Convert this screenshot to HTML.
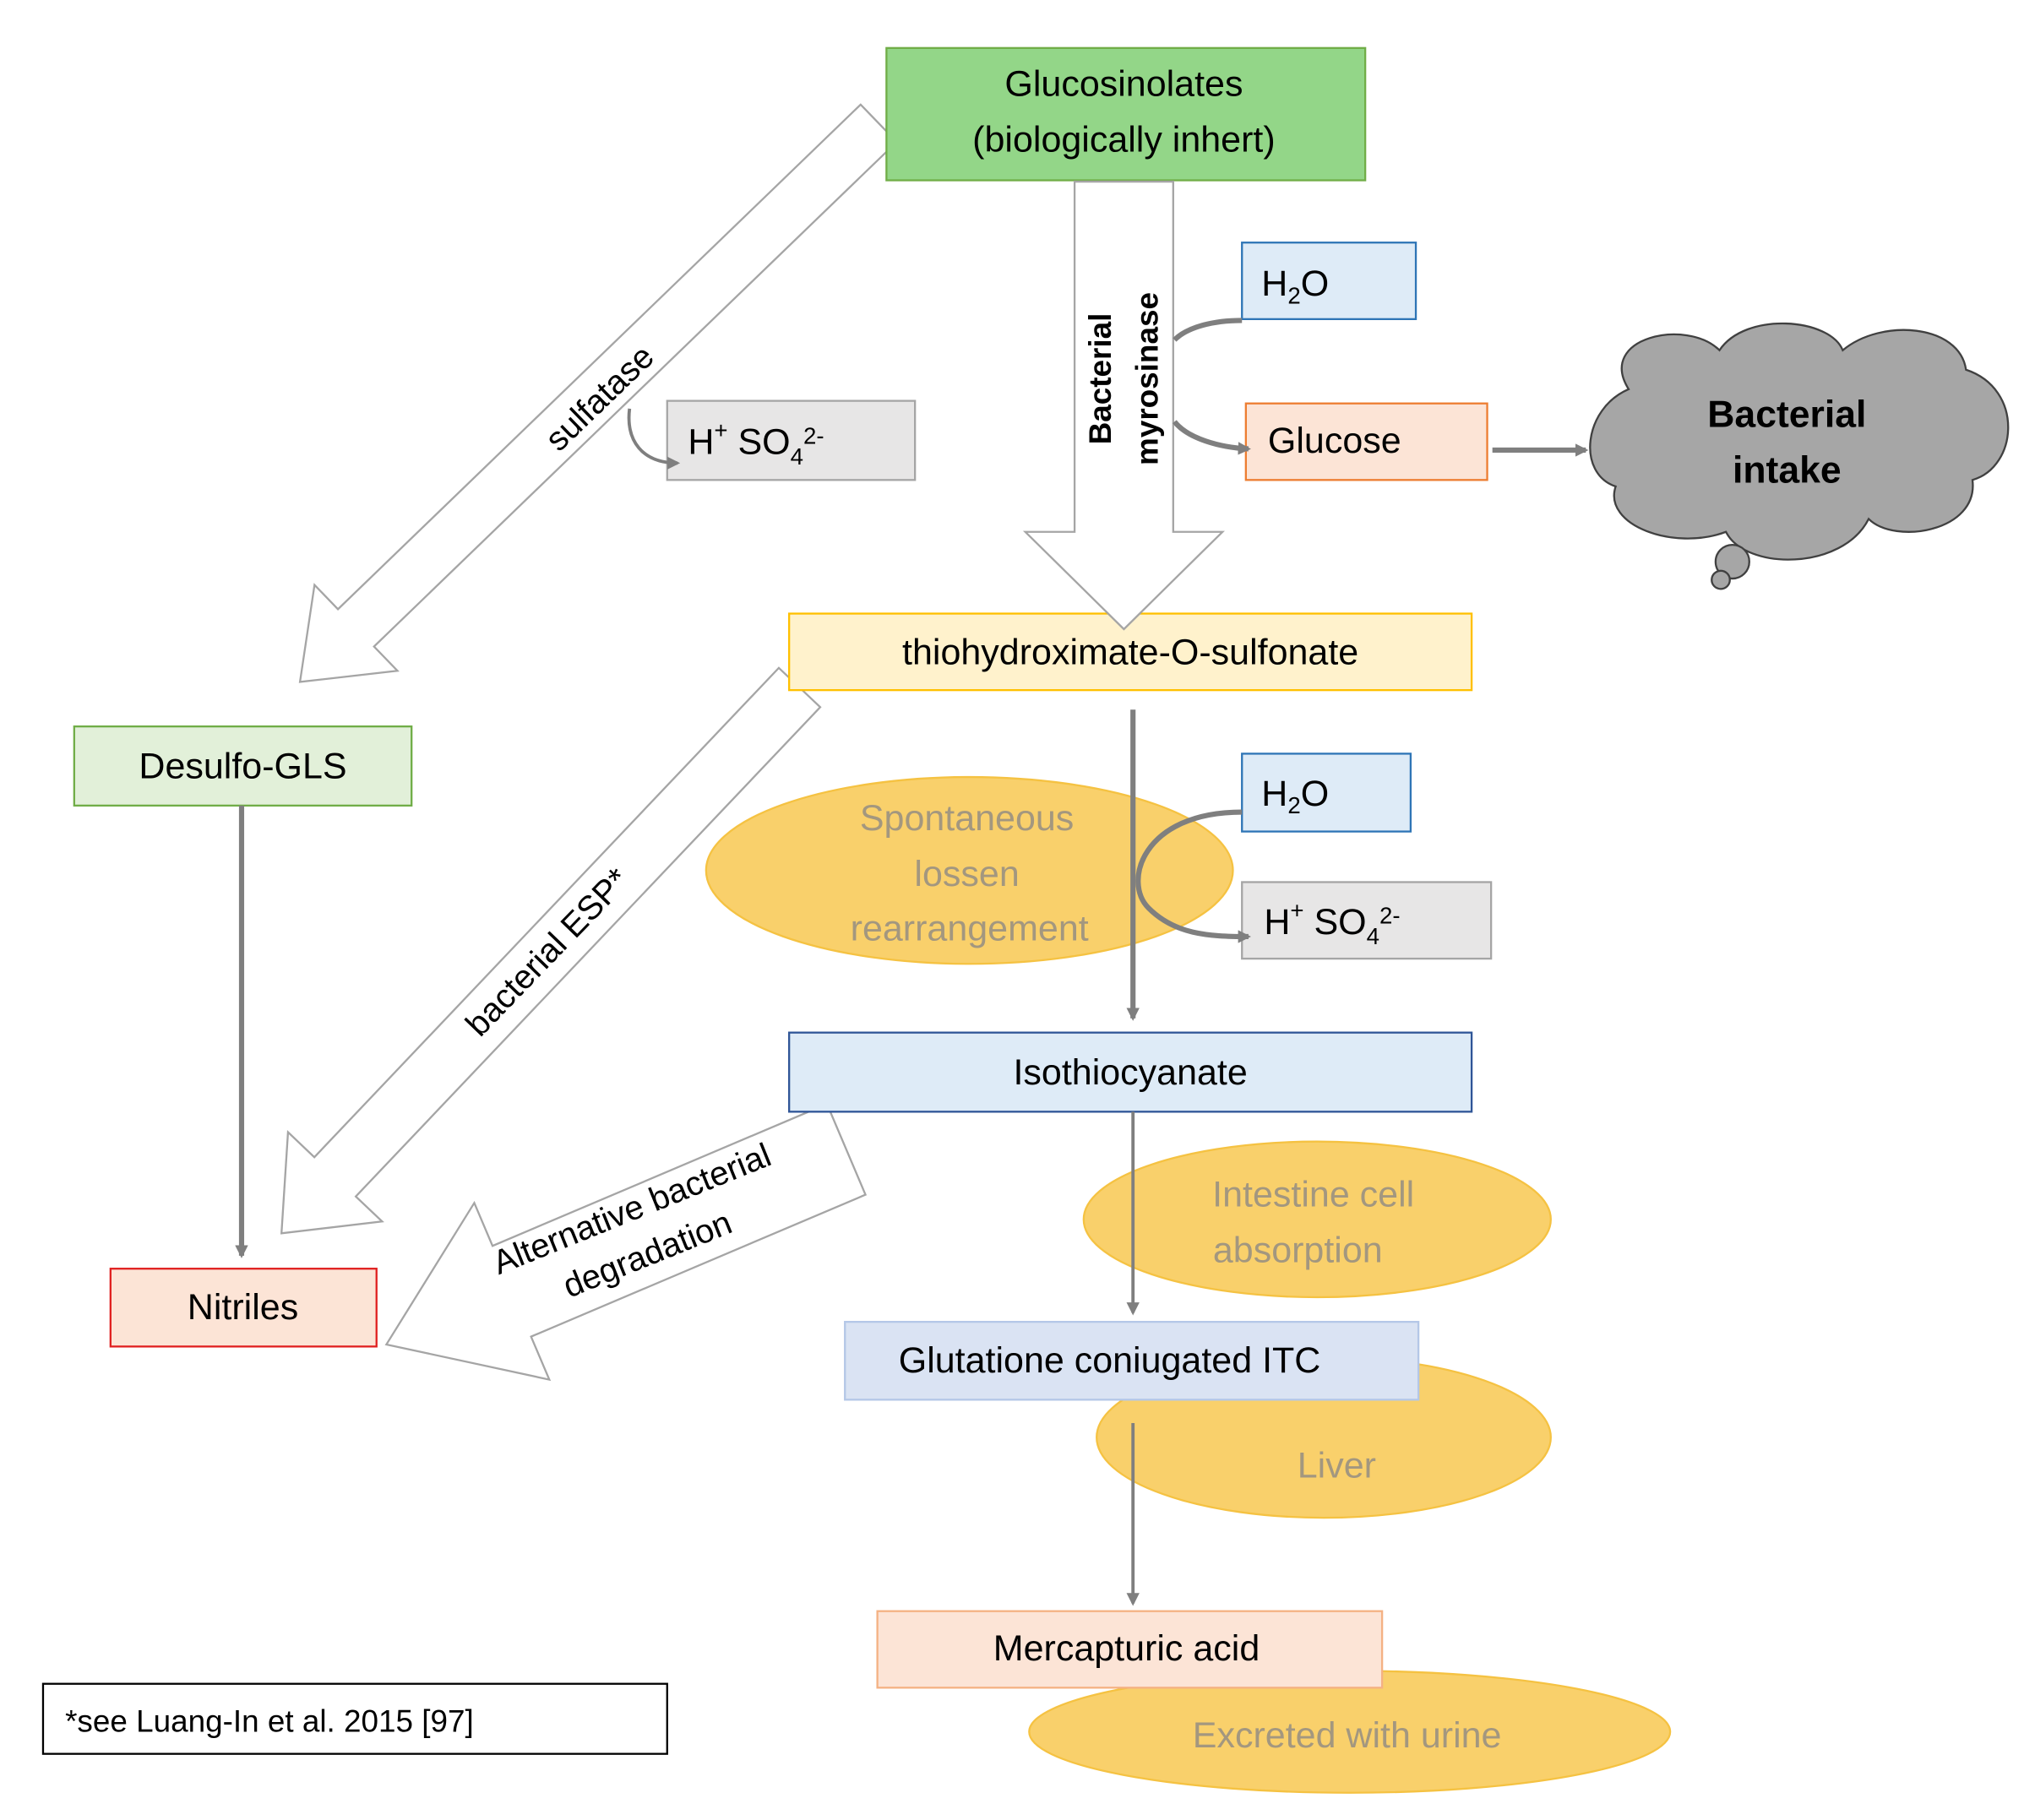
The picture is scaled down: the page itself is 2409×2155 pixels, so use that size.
<!DOCTYPE html>
<html><head><meta charset="utf-8"><style>html,body{margin:0;padding:0;background:#fff}svg{display:block}</style></head>
<body>
<svg width="2409" height="2155" viewBox="0 0 1568 1403" xmlns="http://www.w3.org/2000/svg" font-family="Liberation Sans, sans-serif">
<defs>
<marker id="ah" markerWidth="10" markerHeight="10" refX="8" refY="5" orient="auto" markerUnits="userSpaceOnUse"><path d="M0,0 L10,5 L0,10 z" fill="#7f7f7f"/></marker>
</defs>
<rect width="1568" height="1403" fill="#fff"/>

<g fill="#f9d06b" stroke="#f5c242" stroke-width="1.5">
<ellipse cx="747" cy="671" rx="203" ry="72"/>
<ellipse cx="1015" cy="940" rx="180" ry="60"/>
<ellipse cx="1020" cy="1108" rx="175" ry="62"/>
<ellipse cx="1040" cy="1335" rx="247" ry="47"/>
</g>
<g fill="#a3977f" font-size="28" text-anchor="middle">
<text x="745" y="640">Spontaneous</text>
<text x="745" y="683">lossen</text>
<text x="747" y="725">rearrangement</text>
<text x="1012" y="930">Intestine cell</text>
<text x="1000" y="973">absorption</text>
<text x="1030" y="1139">Liver</text>
<text x="1038" y="1347">Excreted with urine</text>
</g>

<g transform="translate(677,95) rotate(136)">
<polygon points="0,-20 560,-20 560,-46 620,0 560,46 560,20 0,20" fill="#fff" stroke="#a5a5a5" stroke-width="1.5"/>
</g>
<text transform="translate(468,313) rotate(-44)" font-size="26" text-anchor="middle">sulfatase</text>

<g transform="translate(616,530) rotate(133.5)">
<polygon points="0,-22 520,-22 520,-50 580,0 520,50 520,22 0,22" fill="#fff" stroke="#a5a5a5" stroke-width="1.5"/>
</g>
<text transform="translate(428,740) rotate(-46)" font-size="26" text-anchor="middle">bacterial ESP*</text>

<g transform="translate(652,886) rotate(157)">
<polygon points="0,-38 280,-38 280,-74 385,0 280,74 280,38 0,38" fill="#fff" stroke="#a5a5a5" stroke-width="1.5"/>
</g>
<g font-size="26" text-anchor="middle">
<text transform="translate(490,940) rotate(-22)">Alternative bacterial</text>
<text transform="translate(502,975) rotate(-22)">degradation</text>
</g>

<rect x="683" y="37" width="369" height="102" fill="#93d688" stroke="#70ad47" stroke-width="1.5"/>
<g font-size="28" text-anchor="middle"><text x="866" y="74">Glucosinolates</text><text x="866" y="117">(biologically inhert)</text></g>

<rect x="957" y="187" width="134" height="59" fill="#deebf7" stroke="#2e75b6" stroke-width="1.5"/>
<text x="972" y="228" font-size="28">H<tspan font-size="18" dy="6">2</tspan><tspan dy="-6">O</tspan></text>
<rect x="960" y="311" width="186" height="59" fill="#fce4d6" stroke="#ed7d31" stroke-width="1.5"/>
<text x="977" y="349" font-size="28">Glucose</text>

<rect x="514" y="309" width="191" height="61" fill="#e7e6e6" stroke="#a5a5a5" stroke-width="1.5"/>
<text x="530" y="350" font-size="28">H<tspan font-size="18" dy="-12">+</tspan><tspan dy="12">  SO</tspan><tspan font-size="18" dy="8">4</tspan><tspan font-size="18" dy="-16">2-</tspan></text>

<rect x="608" y="473" width="526" height="59" fill="#fff2cc" stroke="#ffc000" stroke-width="1.5"/>
<text x="871" y="512" font-size="28" text-anchor="middle">thiohydroximate-O-sulfonate</text>

<polygon points="828,140 828,410 790,410 866,485 942,410 904,410 904,140" fill="#fff" stroke="#a5a5a5" stroke-width="1.5"/>
<g font-weight="bold" font-size="24" fill="#000" text-anchor="middle">
<text transform="translate(856,292) rotate(-90)">Bacterial</text>
<text transform="translate(892,292) rotate(-90)">myrosinase</text>
</g>

<rect x="57" y="560" width="260" height="61" fill="#e2f0d9" stroke="#70ad47" stroke-width="1.5"/>
<text x="187" y="600" font-size="28" text-anchor="middle">Desulfo-GLS</text>

<rect x="957" y="581" width="130" height="60" fill="#deebf7" stroke="#2e75b6" stroke-width="1.5"/>
<text x="972" y="621" font-size="28">H<tspan font-size="18" dy="6">2</tspan><tspan dy="-6">O</tspan></text>
<rect x="957" y="680" width="192" height="59" fill="#e7e6e6" stroke="#a5a5a5" stroke-width="1.5"/>
<text x="974" y="720" font-size="28">H<tspan font-size="18" dy="-12">+</tspan><tspan dy="12">  SO</tspan><tspan font-size="18" dy="8">4</tspan><tspan font-size="18" dy="-16">2-</tspan></text>

<rect x="608" y="796" width="526" height="61" fill="#deebf7" stroke="#2f5597" stroke-width="1.5"/>
<text x="871" y="836" font-size="28" text-anchor="middle">Isothiocyanate</text>

<rect x="85" y="978" width="205" height="60" fill="#fce4d6" stroke="#e02020" stroke-width="1.5"/>
<text x="187" y="1017" font-size="28" text-anchor="middle">Nitriles</text>

<rect x="651" y="1019" width="442" height="60" fill="#dae3f3" stroke="#b4c7e7" stroke-width="1.5"/>
<text x="855" y="1058" font-size="28" text-anchor="middle">Glutatione coniugated ITC</text>

<rect x="676" y="1242" width="389" height="59" fill="#fce4d6" stroke="#f4b183" stroke-width="1.5"/>
<text x="868" y="1280" font-size="28" text-anchor="middle">Mercapturic acid</text>

<rect x="33" y="1298" width="481" height="54" fill="#fff" stroke="#000" stroke-width="1.5"/>
<text x="50" y="1335" font-size="24">*see Luang-In et al. 2015 [97]</text>

<g fill="#a6a6a6" stroke="#404040" stroke-width="1.5">
<path d="M1255,300 C1230,260 1300,245 1325,270 C1345,240 1410,245 1420,270 C1450,245 1510,250 1515,285 C1560,300 1555,360 1520,370 C1525,410 1460,420 1440,400 C1420,440 1345,440 1330,410 C1290,425 1235,405 1245,375 C1215,365 1220,315 1255,300 Z"/>
<circle cx="1335" cy="433" r="13"/>
<circle cx="1326" cy="447" r="7"/>
</g>
<g font-weight="bold" font-size="29" text-anchor="middle"><text x="1377" y="329">Bacterial</text><text x="1377" y="372">intake</text></g>

<g stroke="#7f7f7f" stroke-width="4" fill="none">
<path d="M905,262 C915,252 935,247 957,247"/>
<path d="M905,325 C915,338 940,345 962,346" marker-end="url(#ah)"/>
<path d="M1150,347 L1222,347" marker-end="url(#ah)"/>
<path d="M873,547 L873,785" marker-end="url(#ah)"/>
<path d="M957,626 C880,626 865,680 885,700 C905,720 930,722 962,722" marker-end="url(#ah)"/>
<path d="M186,621 L186,968" marker-end="url(#ah)"/>
</g>
<g stroke="#7f7f7f" stroke-width="2.5" fill="none">
<path d="M485,315 C482,340 495,357 522,357" marker-end="url(#ah)"/>
<path d="M873,857 L873,1012" marker-end="url(#ah)"/>
<path d="M873,1097 L873,1236" marker-end="url(#ah)"/>
</g>
</svg>
</body></html>
